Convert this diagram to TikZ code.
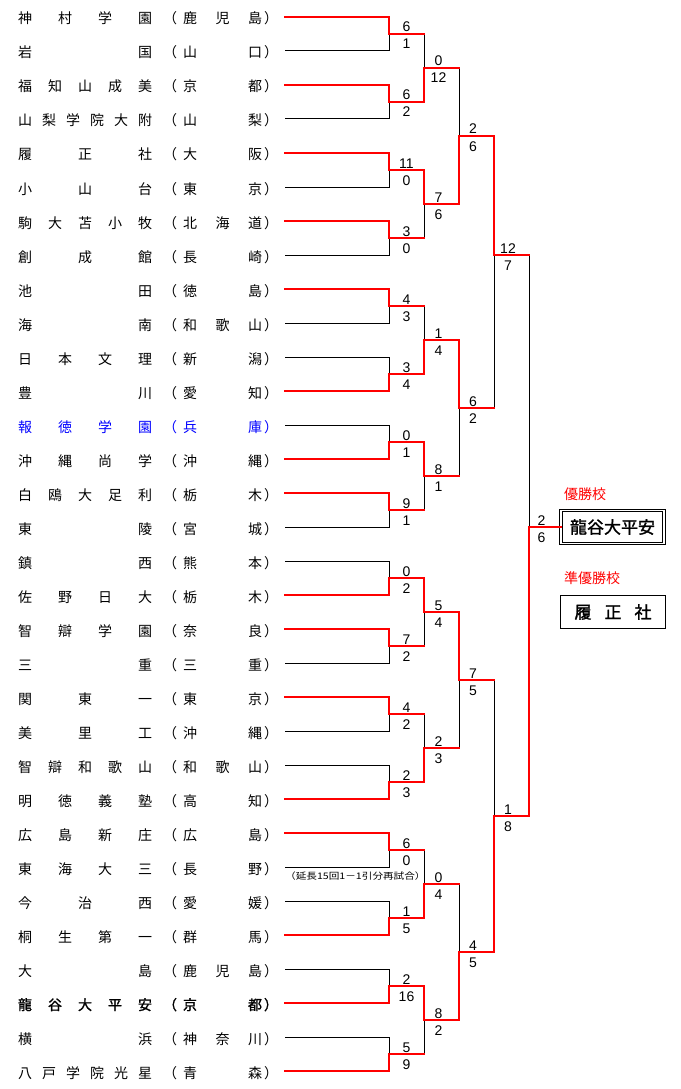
\documentclass[tikz,border=0pt]{standalone}
\usepackage{fontspec}
\setmainfont{Liberation Sans}
\newfontfamily\jp{Noto Sans CJK JP}
\newfontfamily\jpb{Noto Sans CJK JP}[FakeBold=1.5]
\usetikzlibrary{calc}
\definecolor{wred}{RGB}{255,0,0}
\definecolor{hblue}{RGB}{0,0,255}
\tikzset{
 tn/.style={anchor=base,inner sep=0pt,font=\jp\fontsize{14}{14}\selectfont},
 tnb/.style={anchor=base,inner sep=0pt,font=\jpb\fontsize{14}{14}\selectfont},
 sc/.style={anchor=base,inner sep=0pt,font=\fontsize{14}{14}\selectfont},
 lose/.style={draw=black,line width=1pt},
 win/.style={draw=wred,line width=2pt,line cap=rect},
 lbl/.style={inner sep=0pt,text=wred,font=\jp\fontsize{14}{14}\selectfont},
}
\newcommand\teamrow[6]{%
  \foreach \c [count=\j from 0] in {#3}{\node[#6] (n#1-\j) at ({25+\j*120/(#2-1)},{24+34*#1}) {\c};}
  \node[#6] (lp#1) at (170,{24+34*#1}) {（};
  \foreach \c [count=\j from 0] in {#5}{\node[#6] (p#1-\j) at ({190+\j*65/(#4-1)},{24+34*#1}) {\c};}
  \node[#6] (rp#1) at (271,{24+34*#1}) {）};
}
\begin{document}
\begin{tikzpicture}[x=1pt,y=-1pt]
\useasboundingbox (0,0) rectangle (680,1089);
% ---------- team names ----------
\teamrow{0}{4}{神,村,学,園}{3}{鹿,児,島}{tn}
\teamrow{1}{2}{岩,国}{2}{山,口}{tn}
\teamrow{2}{5}{福,知,山,成,美}{2}{京,都}{tn}
\teamrow{3}{6}{山,梨,学,院,大,附}{2}{山,梨}{tn}
\teamrow{4}{3}{履,正,社}{2}{大,阪}{tn}
\teamrow{5}{3}{小,山,台}{2}{東,京}{tn}
\teamrow{6}{5}{駒,大,苫,小,牧}{3}{北,海,道}{tn}
\teamrow{7}{3}{創,成,館}{2}{長,崎}{tn}
\teamrow{8}{2}{池,田}{2}{徳,島}{tn}
\teamrow{9}{2}{海,南}{3}{和,歌,山}{tn}
\teamrow{10}{4}{日,本,文,理}{2}{新,潟}{tn}
\teamrow{11}{2}{豊,川}{2}{愛,知}{tn}
\teamrow{12}{4}{報,徳,学,園}{2}{兵,庫}{tn,text=hblue}
\teamrow{13}{4}{沖,縄,尚,学}{2}{沖,縄}{tn}
\teamrow{14}{5}{白,鴎,大,足,利}{2}{栃,木}{tn}
\teamrow{15}{2}{東,陵}{2}{宮,城}{tn}
\teamrow{16}{2}{鎮,西}{2}{熊,本}{tn}
\teamrow{17}{4}{佐,野,日,大}{2}{栃,木}{tn}
\teamrow{18}{4}{智,辯,学,園}{2}{奈,良}{tn}
\teamrow{19}{2}{三,重}{2}{三,重}{tn}
\teamrow{20}{3}{関,東,一}{2}{東,京}{tn}
\teamrow{21}{3}{美,里,工}{2}{沖,縄}{tn}
\teamrow{22}{5}{智,辯,和,歌,山}{3}{和,歌,山}{tn}
\teamrow{23}{4}{明,徳,義,塾}{2}{高,知}{tn}
\teamrow{24}{4}{広,島,新,庄}{2}{広,島}{tn}
\teamrow{25}{4}{東,海,大,三}{2}{長,野}{tn}
\teamrow{26}{3}{今,治,西}{2}{愛,媛}{tn}
\teamrow{27}{4}{桐,生,第,一}{2}{群,馬}{tn}
\teamrow{28}{2}{大,島}{3}{鹿,児,島}{tn}
\teamrow{29}{5}{龍,谷,大,平,安}{2}{京,都}{tnb}
\teamrow{30}{2}{横,浜}{3}{神,奈,川}{tn}
\teamrow{31}{6}{八,戸,学,院,光,星}{2}{青,森}{tn}
% ---------- coordinates ----------
\foreach \i in {0,...,31}{\coordinate (T\i) at (285,{17+34*\i});}
\foreach \k in {0,...,15}{\coordinate (A\k) at (389,{34+68*\k});}
\foreach \k in {0,...,7}{\coordinate (B\k) at (424,{68+136*\k});}
\foreach \k in {0,...,3}{\coordinate (C\k) at (459,{136+272*\k});}
\coordinate (D0) at (494,255);
\coordinate (D1) at (494,816);
\coordinate (E) at (529,527);
% ---------- final boxes ----------
\node[draw,double,double distance=1.5pt,line width=0.8pt,minimum width=103pt,minimum height=33pt,inner sep=0pt,font=\jpb\fontsize{17}{17}\selectfont] (W) at (612.5,527) {龍谷大平安};
\node[draw,line width=1pt,minimum width=105pt,minimum height=33pt,inner sep=0pt,font=\jpb\fontsize{17}{17}\selectfont] (R) at (613,612) {履\hspace{13pt}正\hspace{13pt}社};
\node[lbl] (wl) at (585,494) {優勝校};
\node[lbl] (rl) at (592,578) {準優勝校};
\node[inner sep=0pt,anchor=west,font=\jp\fontsize{9}{9}\selectfont] (note) at (285,876) {\scalebox{1.18}[1]{（延長15回1－1引分再試合）}};
% ---------- black skeleton ----------
\foreach \i in {0,...,31}{\pgfmathtruncatemacro\m{int(\i/2)}\draw[lose] (T\i) -| (A\m);}
\foreach \k in {0,...,7}{\pgfmathtruncatemacro\a{2*\k}\pgfmathtruncatemacro\b{2*\k+1}\draw[lose] (A\a -| B\k) -- (A\b -| B\k);}
\foreach \k in {0,...,3}{\pgfmathtruncatemacro\a{2*\k}\pgfmathtruncatemacro\b{2*\k+1}\draw[lose] (B\a -| C\k) -- (B\b -| C\k);}
\draw[lose] (C0 -| D0) -- (C1 -| D0);
\draw[lose] (C2 -| D1) -- (C3 -| D1);
\draw[lose] (D0 -| E) -- (D1 -| E);
% ---------- red: winners ----------
\foreach \w [count=\k from 0] in {0,0,0,0,0,1,1,0,1,0,0,1,0,1,1,1}{\pgfmathtruncatemacro\t{2*\k+\w}\draw[win] (T\t) -| (A\k);}
\foreach \k in {0,...,15}{\pgfmathtruncatemacro\m{int(\k/2)}\draw[win] (A\k) -- (A\k -| B\m);}
\foreach \w [count=\k from 0] in {1,0,1,0,0,1,1,0}{\pgfmathtruncatemacro\t{2*\k+\w}\draw[win] (A\t -| B\k) -- (B\k);}
\foreach \k in {0,...,7}{\pgfmathtruncatemacro\m{int(\k/2)}\draw[win] (B\k) -- (B\k -| C\m);}
\foreach \w [count=\k from 0] in {1,0,0,1}{\pgfmathtruncatemacro\t{2*\k+\w}\draw[win] (B\t -| C\k) -- (C\k);}
\draw[win] (C0) -- (C0 -| D0);
\draw[win] (C1) -- (C1 -| D0);
\draw[win] (C2) -- (C2 -| D1);
\draw[win] (C3) -- (C3 -| D1);
\draw[win] (C0 -| D0) -- (D0);
\draw[win] (C3 -| D1) -- (D1);
\draw[win] (D0) -- (D0 -| E);
\draw[win] (D1) -- (D1 -| E);
\draw[win] (D1 -| E) -- (E);
\draw[win] (E) -- (W.west);
% ---------- scores ----------
\foreach \a/\b [count=\k from 0] in {6/1,6/2,11/0,3/0,4/3,3/4,0/1,9/1,0/2,7/2,4/2,2/3,6/0,1/5,2/16,5/9}{
  \node[sc] (sAt\k) at ($(A\k)+(17.5,-2)$) {\a};
  \node[sc] (sAb\k) at ($(A\k)+(17.5,15)$) {\b};}
\foreach \a/\b [count=\k from 0] in {0/12,7/6,1/4,8/1,5/4,2/3,0/4,8/2}{
  \node[sc] (sBt\k) at ($(B\k)+(14.5,-2)$) {\a};
  \node[sc] (sBb\k) at ($(B\k)+(14.5,15)$) {\b};}
\foreach \a/\b [count=\k from 0] in {2/6,6/2,7/5,4/5}{
  \node[sc] (sCt\k) at ($(C\k)+(14,-2)$) {\a};
  \node[sc] (sCb\k) at ($(C\k)+(14,15)$) {\b};}
\node[sc] (sDt0) at ($(D0)+(14,-2)$) {12};
\node[sc] (sDb0) at ($(D0)+(14,15)$) {7};
\node[sc] (sDt1) at ($(D1)+(14,-2)$) {1};
\node[sc] (sDb1) at ($(D1)+(14,15)$) {8};
\node[sc] (sEt) at ($(E)+(12.5,-2)$) {2};
\node[sc] (sEb) at ($(E)+(12.5,15)$) {6};
\end{tikzpicture}
\end{document}
